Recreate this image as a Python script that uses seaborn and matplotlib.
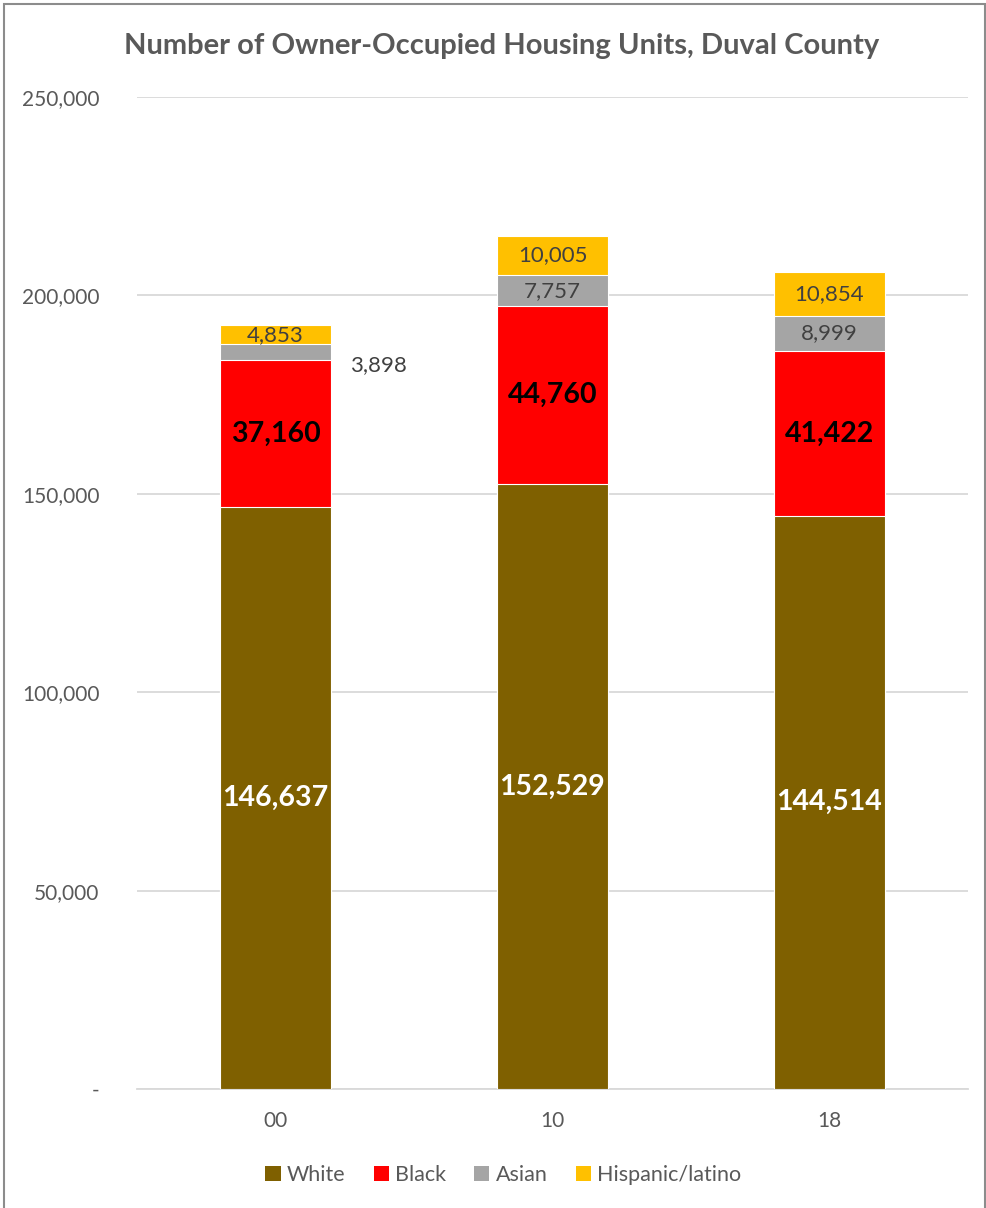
import matplotlib
matplotlib.use("Agg")
import matplotlib.pyplot as plt
from matplotlib.patches import Rectangle, Patch
import numpy as np
import pandas as pd
import seaborn as sns

# Owner-occupied housing units by race/ethnicity, Duval County
years = ["00", "10", "18"]
white = [146637, 152529, 144514]
black = [37160, 44760, 41422]
asian = [3898, 7757, 8999]
hispanic = [4853, 10005, 10854]

series_names = ["White", "Black", "Asian", "Hispanic/latino"]
series_values = [white, black, asian, hispanic]
colors = ["#7F6000", "#FF0000", "#A5A5A5", "#FFC000"]
y_ticks = [0, 50000, 100000, 150000, 200000, 250000]
y_tick_labels = ["-", "50,000", "100,000", "150,000", "200,000", "250,000"]

sns.set_theme(style="white")
plt.rcParams["font.family"] = ["Lato", "DejaVu Sans"]

fig = plt.figure(figsize=(9.87, 12.08), dpi=100)
ax = fig.add_axes([0.1388, 0.0985, 0.8419, 0.8212])

# Stacked bars: draw cumulative totals from the top layer downward
vals = np.array(series_values, dtype=float)
cum = np.cumsum(vals, axis=0)
for i in range(len(series_names) - 1, -1, -1):
    df = pd.DataFrame({"year": years, "value": cum[i]})
    sns.barplot(data=df, x="year", y="value", color=colors[i], width=0.4,
                saturation=1, ax=ax, edgecolor="white", linewidth=0.8, zorder=3)

# Segment labels
label_styles = [
    dict(color="white", fontsize=20.5, fontweight="bold"),
    dict(color="black", fontsize=20.5, fontweight="bold"),
    dict(color="#404040", fontsize=16),
    dict(color="#404040", fontsize=16),
]
for i in range(len(series_names)):
    for j in range(len(years)):
        v = vals[i, j]
        center = cum[i, j] - v / 2
        x = j
        if i == 2 and j == 0:
            # small slice: label placed beside the bar
            x = j + 0.37
            center = 182400
        ax.text(x, center, f"{int(v):,}", ha="center", va="center", zorder=5,
                **label_styles[i])

ax.set_ylim(0, 250000)
ax.set_xlim(-0.5, 2.5)
ax.set_yticks(y_ticks)
ax.set_yticklabels(y_tick_labels)
ax.yaxis.grid(True, color="#D9D9D9", linewidth=1.3, zorder=0)
ax.set_axisbelow(True)
ax.tick_params(axis="y", labelsize=15, labelcolor="#595959", pad=27, length=0)
ax.tick_params(axis="x", labelsize=15, labelcolor="#595959", pad=16, length=0)
for lab in ax.get_yticklabels():
    lab.set_horizontalalignment("right")
ax.set_xlabel("")
ax.set_ylabel("")
for side in ["top", "right", "left"]:
    ax.spines[side].set_visible(False)
ax.spines["bottom"].set_color("#D9D9D9")
ax.spines["bottom"].set_linewidth(1.3)

fig.text(0.508, 0.962, "Number of Owner-Occupied Housing Units, Duval County",
         ha="center", va="center", fontsize=21, fontweight="bold", color="#595959")

handles = [Patch(facecolor=c, edgecolor="none") for c in colors]
fig.legend(handles, series_names, loc="center", bbox_to_anchor=(0.51, 0.027),
           ncol=4, frameon=False, fontsize=15.5, labelcolor="#595959",
           handlelength=0.7, handleheight=0.7, handletextpad=0.3, columnspacing=1.3)

# Chart frame
fig.patches.append(Rectangle((0.004, -0.01), 0.994, 1.007, transform=fig.transFigure,
                             fill=False, edgecolor="#8C8C8C", linewidth=1.5))

fig.savefig("out.png", dpi=100)
